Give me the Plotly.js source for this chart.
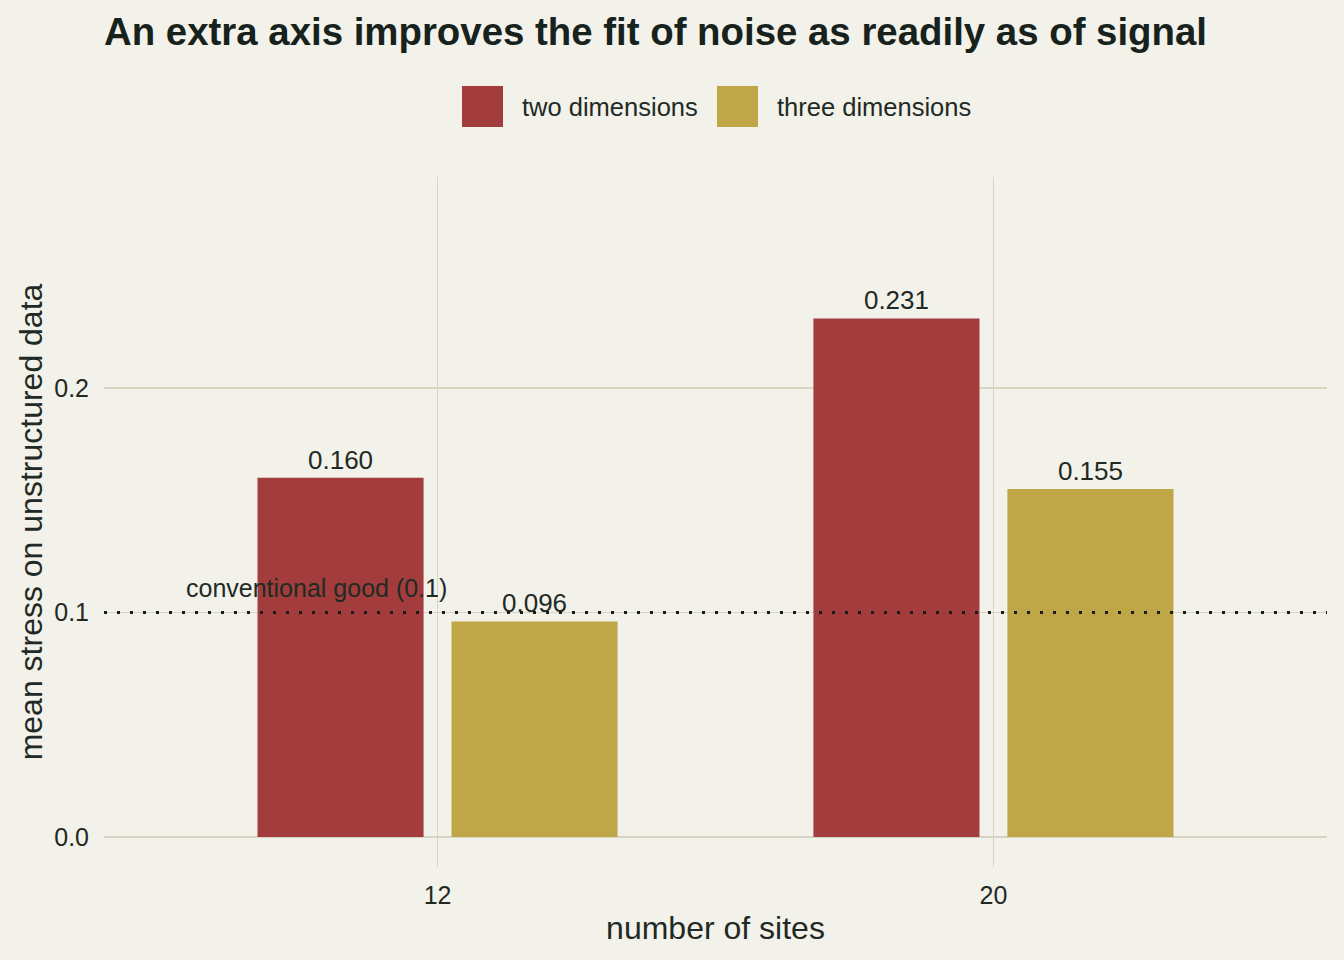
<!DOCTYPE html>
<html>
<head>
<meta charset="utf-8">
<script src="https://cdn.plot.ly/plotly-3.0.1.min.js"></script>
<style>
  html, body { margin: 0; padding: 0; background: #f2f1ea; }
  #chart { width: 1344px; height: 960px; }
</style>
</head>
<body>
<div id="chart"></div>
<script>
  var sites = ["12", "20"];
  var twoDim = [0.160, 0.231];
  var threeDim = [0.096, 0.155];
  var seriesNames = ["two dimensions", "three dimensions"];
  var seriesColors = ["#a33d3d", "#bfa646"];
  var goodLevel = 0.1;
  var goodLabel = "conventional good (0.1)";

  var ink = "#1f2a24";
  var grid = "#d6d5c4";
  var font = "Liberation Sans, Arial, sans-serif";

  function bars(vals, i) {
    return {
      type: "bar",
      x: sites,
      y: vals,
      name: seriesNames[i],
      marker: { color: seriesColors[i] },
      text: vals.map(function (v) { return v.toFixed(3); }),
      textposition: "outside",
      textfont: { size: 26, color: ink, family: font },
      cliponaxis: false,
      hoverinfo: "skip"
    };
  }

  var data = [bars(twoDim, 0), bars(threeDim, 1)];

  // hand-made legend: large square keys like the original
  var shapes = [{
    type: "line", xref: "paper", yref: "y", x0: 0, x1: 1, y0: goodLevel, y1: goodLevel,
    line: { color: "#1a1a1a", width: 3, dash: "3px,10px" }
  }];
  var annotations = [{
    x: -0.217, y: goodLevel, xref: "x", yref: "y", text: goodLabel, showarrow: false,
    yanchor: "bottom", yshift: 8, font: { size: 25, color: ink, family: font }
  }];
  var keyX = [462, 717];
  seriesNames.forEach(function (n, i) {
    shapes.push({
      type: "rect", xref: "paper", yref: "paper",
      x0: (keyX[i] - 104) / 1223, x1: (keyX[i] + 41 - 104) / 1223,
      y0: (867 - 127) / 690, y1: (867 - 86) / 690,
      fillcolor: seriesColors[i], line: { width: 0 }
    });
    annotations.push({
      xref: "paper", yref: "paper", x: (keyX[i] + 58 - 104) / 1223, y: (867 - 107) / 690,
      xanchor: "left", yanchor: "middle", text: n, showarrow: false,
      font: { size: 25.5, color: ink, family: font }
    });
  });

  var layout = {
    width: 1344,
    height: 960,
    paper_bgcolor: "#f2f1ea",
    plot_bgcolor: "#f2f1ea",
    font: { family: font, color: ink },
    margin: { l: 104, r: 17, t: 177, b: 93 },
    showlegend: false,
    barmode: "group",
    bargap: 0.302,
    bargroupgap: 0.144,
    title: {
      text: "<b>An extra axis improves the fit of noise as readily as of signal</b>",
      x: 104 / 1344, xanchor: "left", y: 1 - 32 / 960, yanchor: "middle",
      font: { size: 38.4, color: "#17221c", family: font }
    },
    xaxis: {
      type: "category",
      range: [-0.6, 1.6],
      showgrid: true, gridcolor: grid, gridwidth: 1.6,
      zeroline: false, showline: false,
      ticks: "", tickfont: { size: 25, color: ink }, ticklabelstandoff: 11,
      title: { text: "number of sites", font: { size: 32, color: ink }, standoff: 8 }
    },
    yaxis: {
      range: [-0.0134, 0.294],
      tickvals: [0, 0.1, 0.2],
      ticktext: ["0.0", "0.1", "0.2"],
      showgrid: true, gridcolor: grid, gridwidth: 1.6,
      zeroline: false, showline: false,
      ticks: "", tickfont: { size: 25, color: ink }, ticklabelstandoff: 14,
      title: { text: "mean stress on unstructured data", font: { size: 32, color: ink }, standoff: 2 }
    },
    shapes: shapes,
    annotations: annotations
  };

  Plotly.newPlot("chart", data, layout, { displayModeBar: false, staticPlot: true });
</script>
</body>
</html>
